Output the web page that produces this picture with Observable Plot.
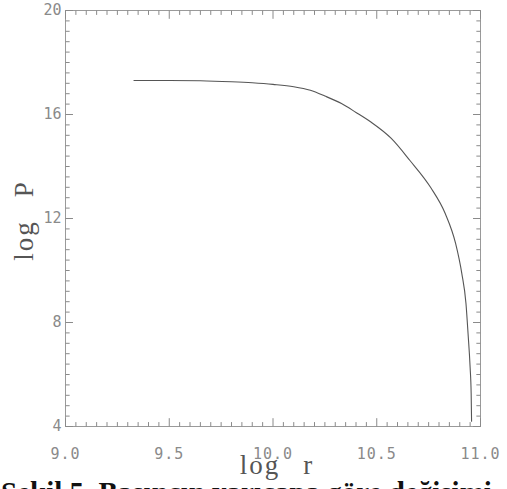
<!DOCTYPE html>
<html><head><meta charset="utf-8">
<script src="https://cdn.jsdelivr.net/npm/d3@7"></script>
<script src="https://cdn.jsdelivr.net/npm/@observablehq/plot@0.6"></script>
<style>
html,body{margin:0;padding:0;background:#fff;width:507px;height:489px;overflow:hidden;}
#wrap{position:relative;width:507px;height:489px;}
#caption{position:absolute;left:1px;top:478px;font:bold 29px "Liberation Serif",serif;line-height:29px;white-space:nowrap;color:#111;}
g[aria-label="x-axis tick label"] text{letter-spacing:1px;}
</style></head><body><div id="wrap"><div id="chart"></div><div id="caption"></div></div>
<script>
// Data
const logR = [9.33, 9.50, 9.65, 9.80, 9.90, 10.00, 10.10, 10.18, 10.25, 10.33, 10.40, 10.47, 10.57, 10.66, 10.76, 10.83, 10.88, 10.91, 10.93, 10.94, 10.95, 10.955, 10.957];
const logP = [17.31, 17.31, 17.30, 17.26, 17.22, 17.16, 17.07, 16.93, 16.71, 16.42, 16.08, 15.72, 15.08, 14.23, 13.19, 12.19, 11.04, 9.88, 8.73, 7.58, 6.27, 5.27, 4.2];
const xTicks = [9.0, 9.5, 10.0, 10.5, 11.0];
const xTickLabels = ["9.0", "9.5", "10.0", "10.5", "11.0"];
const yTicks = [4, 8, 12, 16, 20];
const yTickLabels = ["4", "8", "12", "16", "20"];
const xLabel = "log\u2002\u2009r";
const yLabel = "log\u2002\u2009P";
const caption = "Şekil 5. Basıncın yarıçapa göre değişimi";

const data = logR.map((r, i) => ({r, p: logP[i]}));
const xMinor = d3.range(0, 41).map(i => 9 + i * 0.05);
const yMinor = d3.range(0, 41).map(i => 4 + i * 0.4);
const tickColor = "#8a8a8a";
const labelFont = "DejaVu Sans Mono";
const mnY = 0.17, mjY = 0.32, mnX = 0.02, mjX = 0.036;

// tick segments built from the tick arrays (positions go through the scales)
const seg = [];
for (const v of xMinor) {
  const major = xTicks.some(t => Math.abs(t - v) < 1e-9);
  const L = major ? mjY : mnY;
  seg.push({x1: v, x2: v, y1: 4, y2: 4 + L});
  seg.push({x1: v, x2: v, y1: 20, y2: 20 - L});
}
for (const v of yMinor) {
  const major = yTicks.some(t => Math.abs(t - v) < 1e-9);
  const L = major ? mjX : mnX;
  seg.push({x1: 9, x2: 9 + L, y1: v, y2: v});
  seg.push({x1: 11, x2: 11 - L, y1: v, y2: v});
}

const chart = Plot.plot({
  width: 507,
  height: 489,
  marginLeft: 65,
  marginRight: 27,
  marginTop: 10,
  marginBottom: 63,
  x: {domain: [9, 11]},
  y: {domain: [4, 20]},
  style: {background: "#fff"},
  marks: [
    Plot.frame({stroke: "#9a9a9a"}),
    Plot.link(seg, {x1: "x1", y1: "y1", x2: "x2", y2: "y2", stroke: tickColor, strokeWidth: 1}),
    Plot.axisX(xTicks, {tickSize: 0, tickPadding: 22, label: null,
      tickFormat: d => xTickLabels[xTicks.indexOf(d)],
      fontSize: 15, fontFamily: labelFont, fill: "#8a8a8a"}),
    Plot.axisY(yTicks, {tickSize: 0, tickPadding: 4, label: null,
      tickFormat: d => yTickLabels[yTicks.indexOf(d)],
      fontSize: 15, fontFamily: labelFont, fill: "#8a8a8a"}),
    Plot.text([xLabel], {frameAnchor: "bottom", textAnchor: "middle", dy: 47, dx: 4, fontSize: 27, fontFamily: "Liberation Serif", fill: "#555"}),
    Plot.text([yLabel], {frameAnchor: "left", textAnchor: "middle", dx: -41, dy: 2, rotate: -90, fontSize: 27, fontFamily: "Liberation Serif", fill: "#555"}),
    Plot.line(data, {x: "r", y: "p", stroke: "#555", strokeWidth: 1.1, curve: "monotone-x"})
  ]
});
d3.select(chart).selectAll("text")
  .filter(function() { return this.textContent === xLabel || this.textContent === yLabel; })
  .style("letter-spacing", "2px");
document.getElementById("chart").appendChild(chart);
document.getElementById("caption").textContent = caption;
</script></body></html>
